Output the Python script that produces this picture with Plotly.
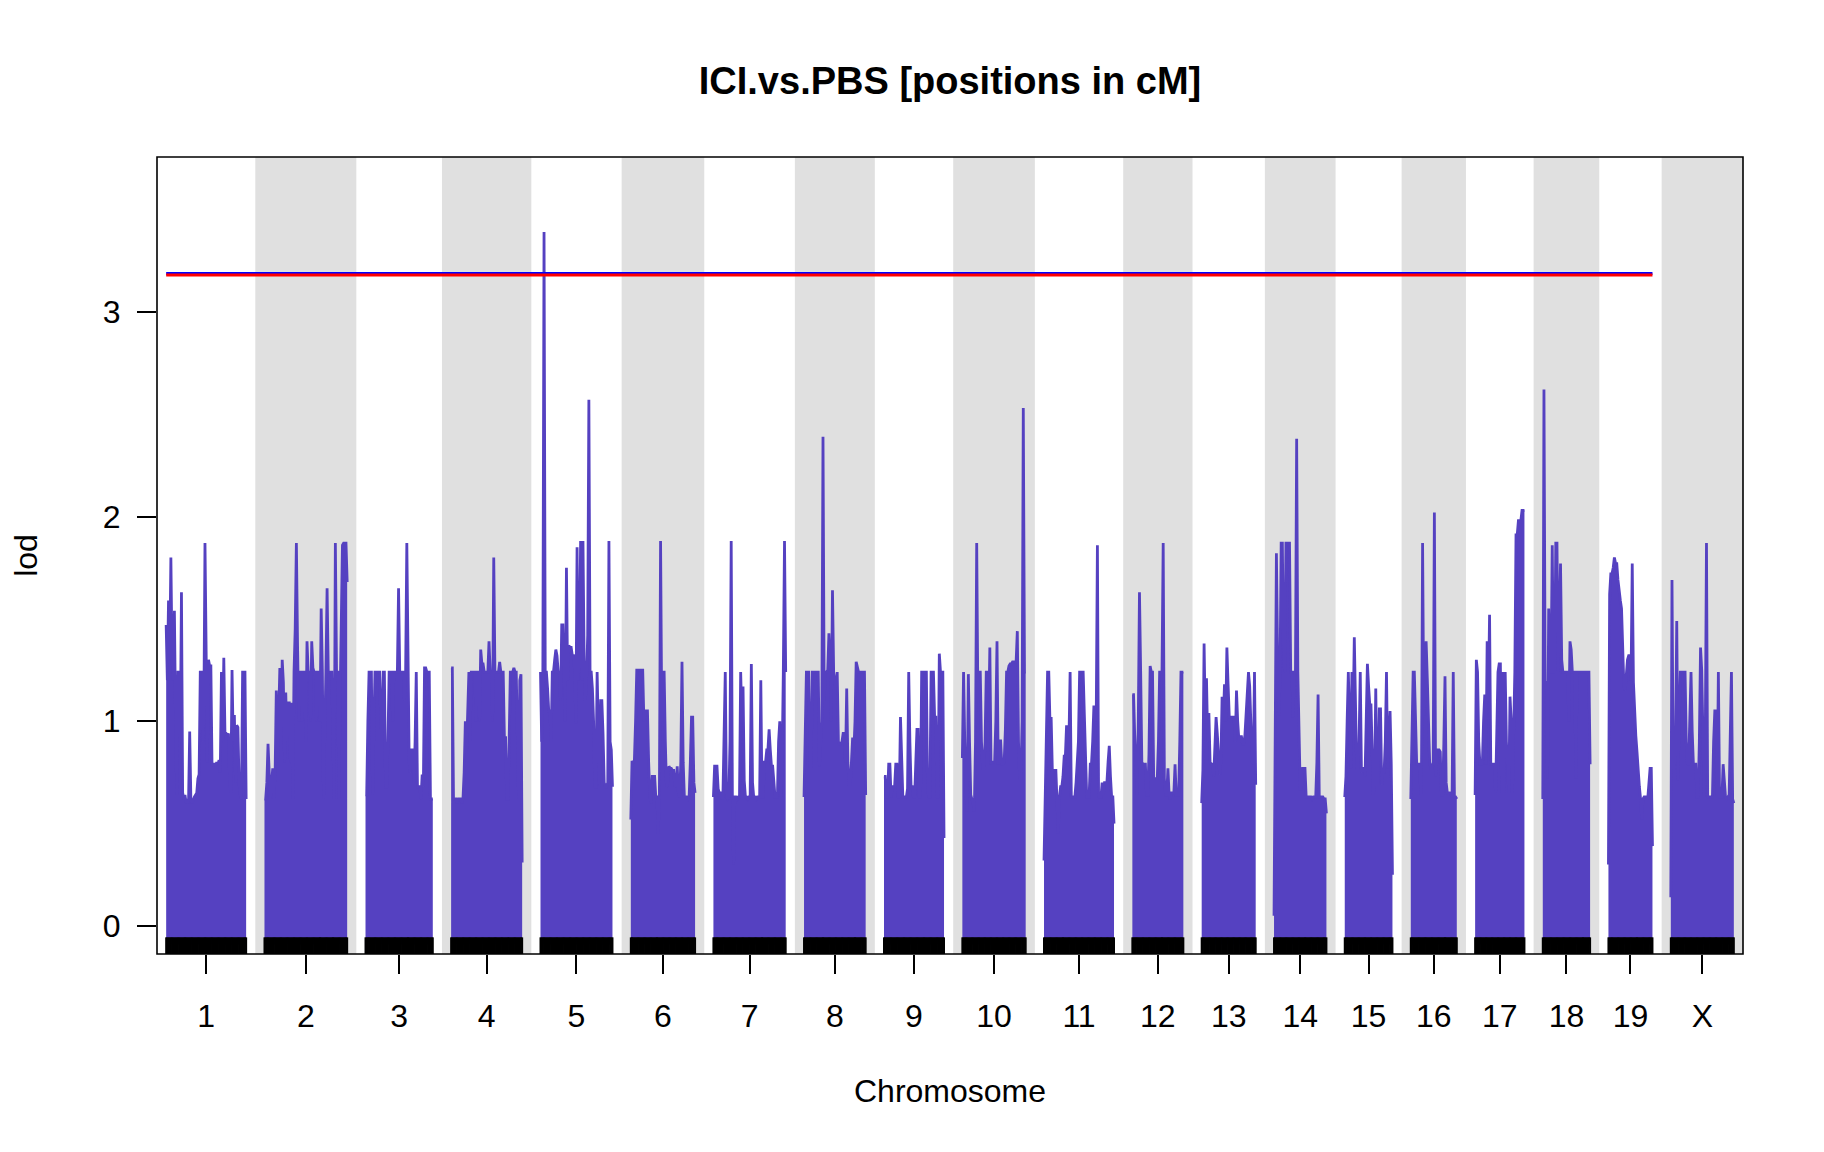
import numpy as np
import plotly.graph_objects as go

# chromosome layout (cM), gap between chromosomes as in R/qtl plot.scanone
chrom_names = ["1", "2", "3", "4", "5", "6", "7", "8", "9", "10",
               "11", "12", "13", "14", "15", "16", "17", "18", "19", "X"]
chrom_lengths = [109.0, 112.7, 91.7, 96.8, 98.1, 87.6, 98.5, 84.0, 81.8, 86.3,
                 95.4, 69.5, 73.6, 71.4, 65.0, 62.7, 67.2, 64.5, 60.0, 85.9]
gap = 25.0

# LOD profile per chromosome (evenly spaced grid)
lod_chr1 = [1.47, 1.2, 1.59, 1.3, 1.80, 1.30, 1.2, 1.54, 1.0, 0.64, 1.24, 1.24, 0.9, 1.63,
            0.65, 0.62, 0.64, 0.6, 0.62, 0.6, 0.95, 0.62, 0.6, 0.62, 0.63, 0.64, 0.65, 0.72,
            0.74, 1.24, 1.24, 0.9, 1.0, 1.87, 1.24, 0.8, 1.30, 1.27, 1.27, 0.78, 0.79, 0.79,
            0.78, 0.8, 0.79, 0.81, 0.75, 1.24, 0.9, 1.31, 0.94, 0.94, 0.93, 0.94, 0.7, 0.65,
            1.25, 0.9, 1.03, 0.7, 0.98, 0.97, 0.7, 0.64, 0.62, 1.24, 1.24, 1.24, 0.62]
lod_chr2 = [0.62, 0.62, 0.7, 0.89, 0.75, 0.62, 0.7, 0.77, 0.62, 0.75, 1.15, 0.8, 1.02, 1.26,
            0.9, 1.30, 1.19, 0.8, 1.14, 0.9, 1.09, 1.09, 0.8, 1.09, 0.62, 1.24, 1.45, 1.87,
            1.37, 1.0, 1.24, 1.24, 1.0, 1.24, 1.24, 0.9, 1.39, 1.24, 1.24, 1.0, 1.39, 1.26,
            1.24, 1.24, 1.0, 1.24, 1.24, 1.0, 1.55, 1.24, 0.62, 0.9, 1.24, 1.65, 1.24, 1.24,
            1.24, 1.24, 0.9, 0.62, 1.87, 1.24, 1.24, 0.62, 1.1, 1.42, 1.86, 1.87, 1.87, 1.87,
            1.68]
lod_chr3 = [0.64, 0.64, 1.0, 1.24, 1.24, 1.24, 0.64, 1.0, 1.24, 1.24, 1.24, 1.24, 1.24, 0.97,
            0.97, 1.24, 1.24, 0.68, 0.68, 0.9, 1.24, 1.24, 1.24, 1.0, 1.24, 1.24, 1.24, 1.24,
            1.65, 1.24, 1.24, 1.24, 1.24, 1.1, 1.24, 1.87, 1.24, 0.8, 0.75, 0.86, 0.86, 0.7,
            0.9, 1.24, 0.68, 0.68, 0.68, 0.62, 0.74, 0.68, 1.26, 1.26, 1.24, 1.24, 1.24, 0.62,
            0.62, 0.62]
lod_chr4 = [1.26, 1.26, 0.62, 0.62, 0.62, 0.6, 0.62, 0.62, 0.62, 0.6, 0.62, 0.75, 1.0, 0.85,
            1.0, 1.24, 0.9, 1.24, 1.24, 1.24, 1.24, 1.0, 1.24, 1.24, 1.0, 1.35, 1.28, 1.28,
            1.24, 1.24, 1.24, 1.24, 1.39, 1.24, 1.24, 1.0, 1.80, 1.24, 1.24, 1.24, 1.24, 1.29,
            1.24, 1.24, 1.24, 0.92, 0.92, 0.62, 0.62, 0.9, 1.24, 1.24, 1.24, 1.26, 1.24, 1.24,
            0.8, 0.62, 1.2, 1.23, 0.31]
lod_chr5 = [1.24, 0.9, 1.24, 3.39, 1.24, 1.24, 1.16, 1.05, 1.05, 0.9, 1.24, 1.24, 1.30, 1.35,
            1.32, 1.24, 1.24, 1.1, 1.47, 1.47, 1.24, 1.0, 1.75, 1.2, 1.37, 1.36, 1.36, 1.32,
            1.32, 1.24, 0.99, 1.85, 1.2, 1.32, 1.88, 1.2, 1.88, 1.3, 1.1, 1.2, 1.42, 2.57,
            1.24, 1.24, 1.16, 1.0, 0.68, 0.68, 1.24, 0.9, 0.68, 1.1, 1.10, 0.94, 0.7, 0.68,
            0.68, 0.7, 1.88, 0.9, 0.86, 0.68]
lod_chr6 = [0.52, 0.80, 0.80, 0.81, 1.0, 1.25, 1.25, 1.25, 1.25, 1.25, 1.25, 1.0, 1.05, 1.05,
            1.05, 0.8, 0.63, 0.6, 0.73, 0.73, 0.73, 0.63, 0.63, 0.45, 0.63, 1.88, 1.0, 1.24,
            1.24, 0.9, 0.68, 0.7, 0.78, 0.77, 0.77, 0.76, 0.76, 0.68, 0.7, 0.78, 0.65, 0.63,
            0.8, 1.29, 0.8, 0.63, 0.63, 0.63, 0.62, 0.63, 0.8, 1.02, 1.02, 0.7, 0.65]
lod_chr7 = [0.63, 0.78, 0.78, 0.78, 0.67, 0.65, 0.65, 0.62, 0.63, 1.0, 1.24, 0.63, 0.62, 0.63,
            0.9, 1.88, 0.63, 0.3, 0.63, 0.63, 0.62, 0.63, 0.63, 1.24, 1.0, 1.17, 0.71, 0.63,
            0.63, 0.62, 0.63, 0.63, 1.28, 0.7, 0.63, 0.63, 0.62, 0.63, 0.63, 0.63, 1.20, 0.63,
            0.63, 0.80, 0.80, 0.86, 0.86, 0.96, 0.86, 0.78, 0.78, 0.71, 0.63, 0.63, 0.63, 0.9,
            1.00, 0.63, 0.8, 1.24, 1.88, 1.24]
lod_chr8 = [0.63, 0.9, 1.24, 1.24, 1.24, 0.78, 0.78, 1.24, 1.24, 1.24, 1.24, 1.24, 1.24, 0.78,
            0.9, 1.0, 2.39, 1.1, 1.24, 1.24, 1.25, 1.43, 1.3, 1.0, 1.64, 1.24, 1.18, 1.18,
            1.24, 0.9, 0.89, 0.89, 0.9, 0.94, 0.94, 0.8, 1.16, 0.8, 0.69, 0.69, 0.8, 0.92,
            0.85, 1.0, 1.29, 1.26, 1.24, 1.24, 1.24, 1.24, 1.24, 1.24, 0.64]
lod_chr9 = [0.73, 0.73, 0.63, 0.63, 0.79, 0.79, 0.63, 0.68, 0.68, 0.68, 0.79, 0.79, 0.63, 0.63,
            1.02, 0.79, 0.63, 0.63, 0.63, 0.63, 0.67, 1.24, 0.9, 0.68, 0.68, 0.63, 0.63, 0.79,
            0.96, 0.96, 0.63, 0.63, 1.24, 1.24, 1.24, 1.24, 1.24, 0.68, 0.63, 0.63, 1.24, 1.24,
            1.24, 1.02, 1.02, 0.63, 0.63, 1.33, 1.24, 1.24, 1.24, 0.43]
lod_chr10 = [0.82, 1.24, 0.9, 0.65, 0.56, 1.23, 0.9, 0.64, 0.62, 0.6, 0.56, 0.9, 1.87, 1.1,
             1.24, 1.24, 0.9, 0.77, 0.77, 0.9, 1.24, 1.24, 1.0, 1.36, 0.79, 0.8, 0.8, 0.8,
             1.0, 1.39, 0.79, 0.8, 0.91, 0.79, 0.79, 0.8, 0.96, 1.24, 1.24, 1.27, 1.28, 1.28,
             1.29, 1.29, 1.29, 1.29, 1.44, 0.9, 0.72, 0.72, 1.0, 2.53, 1.24, 1.24]
lod_chr11 = [0.32, 0.6, 0.82, 1.24, 1.24, 1.0, 1.02, 0.76, 0.76, 0.76, 0.76, 0.6, 0.45, 0.63,
             0.68, 0.68, 0.73, 0.83, 0.83, 0.98, 0.78, 0.9, 1.24, 0.63, 0.63, 0.63, 0.63, 0.7,
             0.79, 0.9, 1.24, 1.24, 1.24, 1.24, 1.03, 0.8, 0.63, 0.63, 0.63, 0.79, 0.79, 0.9,
             1.07, 1.07, 1.0, 1.86, 0.63, 0.63, 0.63, 0.70, 0.64, 0.7, 0.70, 0.70, 0.8, 0.88,
             0.73, 0.63, 0.63, 0.5]
lod_chr12 = [1.13, 1.13, 0.93, 0.8, 0.64, 1.0, 1.63, 1.24, 0.8, 0.79, 0.79, 0.79, 0.64, 0.64,
             0.84, 1.27, 1.24, 1.24, 0.72, 0.72, 0.72, 0.72, 0.9, 1.24, 1.24, 1.24, 1.87, 0.72,
             0.64, 0.64, 0.77, 0.64, 0.62, 0.65, 0.65, 0.65, 0.79, 0.64, 0.64, 0.64, 0.9, 1.24,
             1.24, 1.24]
lod_chr13 = [0.6, 0.76, 1.38, 1.0, 1.21, 0.9, 1.04, 0.8, 0.79, 0.79, 0.73, 0.9, 1.02, 0.94,
             0.8, 0.74, 0.8, 1.12, 1.0, 1.18, 1.0, 1.36, 1.18, 1.02, 1.02, 1.02, 1.02, 1.02,
             0.9, 1.15, 1.0, 0.91, 0.91, 0.93, 0.89, 0.89, 0.93, 1.03, 1.1, 1.24, 1.17, 1.02,
             0.8, 0.79, 1.24, 0.69]
lod_chr14 = [0.05, 1.0, 1.82, 1.31, 1.03, 1.2, 1.87, 1.87, 1.3, 1.24, 1.87, 1.87, 1.87, 1.87,
             1.24, 1.24, 1.02, 1.24, 1.24, 2.38, 1.24, 0.9, 0.67, 0.67, 0.77, 0.77, 0.77, 0.63,
             0.63, 0.63, 0.63, 0.63, 0.62, 0.63, 0.63, 0.63, 0.8, 1.13, 0.63, 0.63, 0.63, 0.63,
             0.62, 0.62, 0.55]
lod_chr15 = [0.63, 0.73, 1.0, 1.24, 1.0, 0.77, 1.24, 1.0, 1.41, 1.06, 0.77, 0.77, 0.90, 1.24,
             0.75, 0.77, 0.77, 0.73, 1.0, 1.28, 1.17, 1.08, 1.08, 0.8, 0.64, 0.71, 1.16, 0.69,
             0.69, 1.06, 1.06, 0.69, 0.75, 0.75, 0.9, 1.24, 0.77, 0.9, 1.05, 0.79, 0.25]
lod_chr16 = [0.62, 0.99, 1.24, 1.24, 1.0, 0.79, 0.79, 0.79, 0.7, 0.64, 1.87, 1.03, 1.1, 1.39,
             1.21, 1.03, 0.80, 0.77, 0.77, 0.80, 2.02, 0.73, 0.80, 0.86, 0.86, 0.85, 0.64, 0.64,
             0.89, 1.22, 0.7, 0.65, 0.65, 0.65, 0.64, 0.63, 1.24, 0.63, 0.63, 0.62]
lod_chr17 = [0.64, 1.30, 1.24, 0.9, 0.79, 0.79, 0.79, 1.0, 1.13, 0.79, 1.39, 1.1, 1.52, 0.79,
             0.79, 0.79, 0.79, 0.65, 1.0, 1.24, 1.28, 1.28, 0.65, 1.24, 0.65, 1.24, 0.9, 0.8,
             0.65, 1.12, 1.0, 0.65, 0.9, 1.24, 1.91, 1.91, 1.98, 1.98, 1.98, 2.03, 2.03, 2.03]
lod_chr18 = [0.62, 2.62, 1.19, 1.19, 0.72, 1.55, 1.24, 1.24, 1.86, 1.24, 1.24, 1.87, 1.87, 1.24,
             1.5, 1.77, 1.30, 1.24, 1.24, 1.24, 1.24, 1.24, 1.0, 1.39, 1.35, 1.24, 1.24, 1.24,
             0.72, 1.24, 1.24, 1.24, 1.24, 1.24, 1.24, 1.24, 1.24, 1.24, 1.24, 1.24, 0.79]
lod_chr19 = [0.3, 1.62, 1.72, 1.72, 1.75, 1.80, 1.77, 1.77, 1.69, 1.62, 1.59, 1.55, 1.28, 1.17,
             1.15, 1.25, 1.30, 1.32, 1.32, 1.2, 1.77, 1.19, 1.04, 0.93, 0.85, 0.75, 0.68, 0.62,
             0.52, 0.62, 0.63, 0.63, 0.63, 0.62, 0.7, 0.77, 0.77, 0.39]
lod_chrX = [0.14, 1.69, 0.77, 0.77, 0.9, 1.49, 0.71, 1.0, 1.24, 1.24, 1.24, 1.24, 1.24, 0.9,
            0.79, 0.79, 1.0, 1.24, 0.95, 0.79, 0.79, 0.79, 0.63, 0.63, 0.9, 1.36, 1.25, 0.8,
            0.63, 0.9, 1.87, 0.63, 0.63, 0.63, 0.63, 0.63, 0.9, 1.05, 1.05, 0.63, 1.24, 0.63,
            0.63, 0.63, 0.79, 0.7, 0.63, 0.62, 0.63, 0.62, 0.9, 1.24, 0.62, 0.60]

# genome-wide significance thresholds (autosomes)
threshold_blue = 3.187
threshold_red = 3.180

y_ticks = [0, 1, 2, 3]

lod_color = "rgb(85,65,193)"
band_color = "#e0e0e0"
font_family = "Liberation Sans, Arial, Helvetica, sans-serif"

lod_lists = [lod_chr1, lod_chr2, lod_chr3, lod_chr4, lod_chr5, lod_chr6, lod_chr7,
             lod_chr8, lod_chr9, lod_chr10, lod_chr11, lod_chr12, lod_chr13, lod_chr14,
             lod_chr15, lod_chr16, lod_chr17, lod_chr18, lod_chr19, lod_chrX]

# chromosome start offsets on the genome axis
starts = []
pos = 0.0
for L in chrom_lengths:
    starts.append(pos)
    pos += L + gap
total = starts[-1] + chrom_lengths[-1]
mids = [s + L / 2 for s, L in zip(starts, chrom_lengths)]

y_min, y_max = -0.137, 3.756
fill_base = -0.09   # hidden under the marker rug

fig = go.Figure()

rug_x = []
for name, s, L, lod in zip(chrom_names, starts, chrom_lengths, lod_lists):
    x = s + np.linspace(0, L, len(lod))
    rug_x.extend(x.tolist())
    fig.add_trace(go.Scatter(
        x=[s, s + L], y=[fill_base, fill_base], mode="lines",
        line=dict(width=0, color=lod_color), showlegend=False, hoverinfo="skip"
    ))
    fig.add_trace(go.Scatter(
        x=x, y=lod, mode="lines", name="chr" + name,
        line=dict(color=lod_color, width=2.8),
        fill="tonexty", fillcolor=lod_color, showlegend=False
    ))

# marker rug at the bottom
fig.add_trace(go.Scatter(
    x=rug_x, y=[-0.1] * len(rug_x), mode="markers",
    marker=dict(symbol="line-ns", size=13, line=dict(width=2, color="black")),
    showlegend=False, hoverinfo="skip"
))

thr_end = starts[18] + chrom_lengths[18]
fig.add_trace(go.Scatter(
    x=[0, thr_end], y=[threshold_blue, threshold_blue], mode="lines",
    line=dict(color="blue", width=3), showlegend=False
))
fig.add_trace(go.Scatter(
    x=[0, thr_end], y=[threshold_red, threshold_red], mode="lines",
    line=dict(color="red", width=3), showlegend=False
))

shapes = []
for i in range(1, len(chrom_names), 2):
    shapes.append(dict(
        type="rect", xref="x", yref="paper",
        x0=starts[i] - gap / 2, x1=starts[i] + chrom_lengths[i] + gap / 2,
        y0=0, y1=1, fillcolor=band_color, line=dict(width=0), layer="below"
    ))
shapes.append(dict(
    type="rect", xref="paper", yref="paper", x0=0, x1=1, y0=0, y1=1,
    line=dict(color="black", width=1.6), fillcolor="rgba(0,0,0,0)", layer="above"
))

# page body has an 8px margin, so the figure is drawn 8px smaller
fig.update_layout(
    width=1816, height=1144,
    margin=dict(l=149, r=81, t=149, b=198),
    paper_bgcolor="white", plot_bgcolor="white",
    font=dict(family=font_family, size=32, color="black"),
    title=dict(
        text="<b>ICI.vs.PBS [positions in cM]</b>",
        x=0.5, xref="paper", xanchor="center",
        y=1 - 73 / 1144, yref="container", yanchor="middle",
        font=dict(size=38, family=font_family, color="black")
    ),
    xaxis=dict(
        range=[-gap / 2, total + gap / 2],
        tickvals=mids, ticktext=chrom_names,
        ticks="outside", ticklen=19, tickwidth=1.6, tickcolor="black",
        showgrid=False, zeroline=False, showline=False,
        ticklabelstandoff=15
    ),
    yaxis=dict(
        range=[y_min, y_max],
        tickvals=y_ticks, ticktext=[str(v) for v in y_ticks],
        ticks="outside", ticklen=19, tickwidth=1.6, tickcolor="black",
        showgrid=False, zeroline=False, showline=False,
        ticklabelstandoff=10
    ),
    shapes=shapes,
    annotations=[
        dict(text="Chromosome", xref="paper", yref="paper", x=0.5, y=-0.172,
             xanchor="center", yanchor="middle", showarrow=False,
             font=dict(size=32, family=font_family, color="black")),
        dict(text="lod", xref="paper", yref="paper", x=-0.083, y=0.5,
             xanchor="center", yanchor="middle", showarrow=False, textangle=-90,
             font=dict(size=32, family=font_family, color="black")),
    ],
)

fig.write_html("out.html")
